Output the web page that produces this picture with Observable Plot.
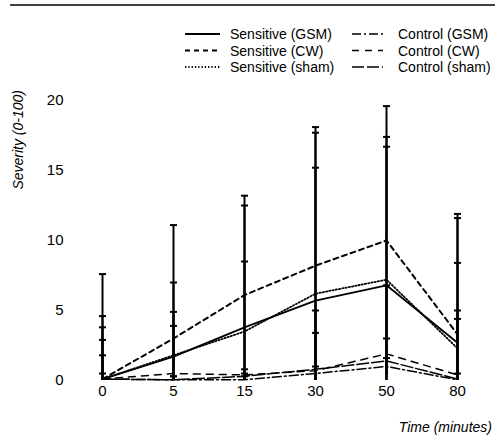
<!DOCTYPE html>
<html>
<head>
<meta charset="utf-8">
<script src="https://cdn.jsdelivr.net/npm/d3@7"></script>
<script src="https://cdn.jsdelivr.net/npm/@observablehq/plot@0.6"></script>
<style>
  html, body { margin: 0; padding: 0; background: #fff; }
  #chart svg { display: block; }
</style>
</head>
<body>
<div id="chart"></div>
<script>
// ---- data ----
const times = ["0", "5", "15", "30", "50", "80"];
const seriesNames = ["Sensitive (GSM)", "Sensitive (CW)", "Sensitive (sham)", "Control (GSM)", "Control (CW)", "Control (sham)"];
const sensitiveGSM = [0.1, 1.7, 3.8, 5.7, 6.8, 2.7];
const sensitiveCW = [0.1, 3.0, 6.1, 8.2, 10.0, 3.3];
const sensitiveSham = [0.1, 1.8, 3.5, 6.2, 7.2, 2.3];
const controlGSM = [0.1, 0.05, 0.05, 0.5, 1.0, 0.05];
const controlCW = [0.1, 0.5, 0.4, 0.7, 1.9, 0.4];
const controlSham = [0.1, 0.05, 0.3, 0.8, 1.4, 0.1];
// upper ends of the error bars (mean + SD)
const sensitiveGSMUpper = [4.6, 7.0, 12.5, 17.7, 16.7, 11.6];
const sensitiveCWUpper = [7.6, 11.1, 13.2, 18.1, 19.6, 11.9];
const sensitiveShamUpper = [3.8, 4.9, 8.5, 15.2, 17.4, 8.4];
const controlGSMUpper = [1.8, 0.3, 0.3, 1.0, 1.6, 0.5];
const controlCWUpper = [2.9, 3.9, 0.8, 5.0, 3.0, 5.0];
const controlShamUpper = [0.5, 0.3, 0.5, 3.4, 6.8, 4.4];
const yTicks = [0, 5, 10, 15, 20];

const means = [sensitiveGSM, sensitiveCW, sensitiveSham, controlGSM, controlCW, controlSham];
const uppers = [sensitiveGSMUpper, sensitiveCWUpper, sensitiveShamUpper, controlGSMUpper, controlCWUpper, controlShamUpper];

const rows = [];
seriesNames.forEach((s, i) => times.forEach((t, j) => {
  const m = means[i][j], u = uppers[i][j];
  rows.push({series: s, time: t, mean: m, upper: u, lower: Math.max(0, 2 * m - u)});
}));

// line styles per series (order matches seriesNames)
const styles = [
  {dash: null, width: 1.8},
  {dash: "5,4", width: 2},
  {dash: "1.3,2", width: 1.8},
  {dash: "9,3,2,3", width: 1.5},
  {dash: "7,6", width: 1.5},
  {dash: "12,3", width: 1.5}
];

const FONT = "'Liberation Sans', Arial, sans-serif";

const cap = {
  draw(ctx, size) {
    const h = Math.sqrt(size / Math.PI);
    ctx.moveTo(-h, 0);
    ctx.lineTo(h, 0);
  }
};

const lineMarks = seriesNames.map((s, i) =>
  Plot.line(rows.filter(d => d.series === s), {
    x: "time", y: "mean", stroke: "black",
    strokeWidth: styles[i].width,
    strokeDasharray: styles[i].dash || undefined
  })
);

const chart = Plot.plot({
  width: 495,
  height: 437,
  marginLeft: 101,
  marginRight: 37,
  marginTop: 100,
  marginBottom: 57,
  style: {fontFamily: FONT, fontSize: "15px", color: "black", background: "white"},
  x: {type: "point", domain: times, padding: 0, label: null},
  y: {domain: [0, 20], label: null},
  marks: [
    Plot.axisY({ticks: yTicks, tickSize: 0, tickPadding: 38, fontSize: 15, label: null}),
    Plot.axisX({tickSize: 0, tickPadding: 5, fontSize: 15, label: null}),
    Plot.ruleX(rows, {x: "time", y1: "lower", y2: "upper", stroke: "black", strokeWidth: 2}),
    Plot.dot(rows, {x: "time", y: "upper", symbol: cap, r: 3.5, stroke: "black", fill: "none", strokeWidth: 2}),
    ...lineMarks
  ]
});

document.getElementById("chart").appendChild(chart);

// decorations: top rule, axis titles, legend
const svg = d3.select(chart);
svg.append("line").attr("x1", 10).attr("x2", 495).attr("y1", 5).attr("y2", 5)
  .attr("stroke", "black").attr("stroke-width", 1.5);

svg.append("text").attr("transform", "translate(23,90) rotate(-90)")
  .attr("text-anchor", "end").attr("font-style", "italic")
  .attr("font-family", FONT).attr("font-size", 14).attr("fill", "black")
  .text("Severity (0-100)");

svg.append("text").attr("x", 492).attr("y", 432)
  .attr("text-anchor", "end").attr("font-style", "italic")
  .attr("font-family", FONT).attr("font-size", 14).attr("fill", "black")
  .text("Time (minutes)");

const legend = svg.append("g");
seriesNames.forEach((s, i) => {
  const col = i < 3 ? 0 : 1;
  const row = i % 3;
  const y = 34 + row * 16.5;
  const lx1 = col === 0 ? 185 : 352;
  const lx2 = col === 0 ? 220 : 383;
  const tx = col === 0 ? 230 : 398;
  legend.append("line").attr("x1", lx1).attr("x2", lx2).attr("y1", y).attr("y2", y)
    .attr("stroke", "black").attr("stroke-width", styles[i].width)
    .attr("stroke-dasharray", styles[i].dash);
  legend.append("text").attr("x", tx).attr("y", y + 5)
    .attr("text-anchor", "start")
    .attr("font-family", FONT).attr("font-size", 14).attr("fill", "black")
    .text(s);
});
</script>
</body>
</html>
